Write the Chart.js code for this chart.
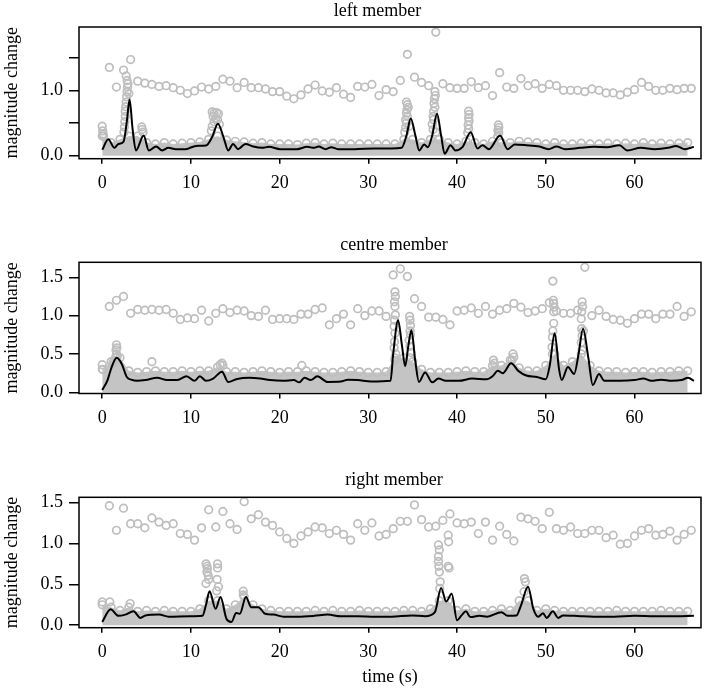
<!DOCTYPE html>
<html><head><meta charset="utf-8">
<script src="https://cdn.jsdelivr.net/npm/chart.js@4.4.1/dist/chart.umd.min.js"></script>
<style>
html,body{margin:0;padding:0;background:#fff;}
body{width:711px;height:688px;position:relative;overflow:hidden;}
canvas{position:absolute;left:0;}
</style></head><body>
<canvas id="c1" width="711" height="230" style="top:0;width:711px;height:230px"></canvas>
<canvas id="c2" width="711" height="230" style="top:230px;width:711px;height:230px"></canvas>
<canvas id="c3" width="711" height="228" style="top:460px;width:711px;height:228px"></canvas>
<script>
// ---------- axis ticks ----------
const xTicks = [0, 10, 20, 30, 40, 50, 60];
const xTickLabels = ['0', '10', '20', '30', '40', '50', '60'];
const yTicks = [0, 0.5, 1.0, 1.5];
const leftYLabels = ['0.0', '', '1.0', ''];
const otherYLabels = ['0.0', '0.5', '1.0', '1.5'];
const panelTitles = ['left member', 'centre member', 'right member'];
const yTitle = 'magnitude change';
const xTitle = 'time (s)';

// ---------- shared time bases ----------
const highTime = [0.8,1.6,2.4,3.2,4.0,4.8,5.6,6.4,7.2,8.0,8.8,9.6,10.4,11.2,12.0,12.8,13.6,14.4,15.2,16.0,16.8,17.6,18.4,19.2,20.0,20.8,21.6,22.4,23.2,24.0,24.8,25.6,26.4,27.2,28.0,28.8,29.6,30.4,31.2,32.0,32.8,33.6,34.4,35.2,36.0,36.8,37.6,38.4,39.2,40.0,40.8,41.6,42.4,43.2,44.0,44.8,45.6,46.4,47.2,48.0,48.8,49.6,50.4,51.2,52.0,52.8,53.6,54.4,55.2,56.0,56.8,57.6,58.4,59.2,60.0,60.8,61.6,62.4,63.2,64.0,64.8,65.6,66.4];
const bandTime = [0,1,2,3,4,5,6,7,8,9,10,11,12,13,14,15,16,17,18,19,20,21,22,23,24,25,26,27,28,29,30,31,32,33,34,35,36,37,38,39,40,41,42,43,44,45,46,47,48,49,50,51,52,53,54,55,56,57,58,59,60,61,62,63,64,65,66];

// ---------- left member ----------
const leftHigh = [1.35,1.05,1.31,1.47,1.14,1.11,1.09,1.06,1.07,1.04,1.0,0.95,0.99,1.05,1.02,1.06,1.17,1.14,1.04,1.12,1.04,1.04,1.02,0.98,0.98,0.91,0.87,0.93,1.02,1.08,0.99,0.97,1.04,0.94,0.89,1.06,1.05,1.09,0.92,1.01,0.98,1.15,1.55,1.2,1.12,1.07,1.89,1.1,1.04,1.03,1.03,1.13,1.04,1.07,0.92,1.27,1.05,1.03,1.18,1.07,1.1,1.03,1.09,1.07,1.0,1.0,1.0,0.98,1.02,1.0,0.96,0.96,0.93,0.97,1.01,1.12,1.06,1.0,1.0,1.03,1.01,1.03,1.03];
const leftBand = [0.3,0.2,0.25,0.3,0.3,0.2,0.18,0.2,0.18,0.19,0.2,0.21,0.25,0.3,0.24,0.22,0.21,0.19,0.2,0.18,0.18,0.18,0.17,0.19,0.2,0.18,0.19,0.18,0.18,0.18,0.18,0.18,0.18,0.18,0.25,0.25,0.2,0.25,0.25,0.2,0.18,0.22,0.2,0.18,0.22,0.2,0.2,0.22,0.21,0.2,0.18,0.2,0.18,0.18,0.19,0.18,0.18,0.19,0.18,0.19,0.18,0.2,0.18,0.19,0.18,0.19,0.2];
const leftSpikeT = [0,0.05,0.1,0.15, 2.7,2.8,2.9,2.85,2.8,2.75,2.7,2.65,2.6,2.6,2.55,2.5,2.45,3.0, 4.45,4.5,4.6, 12.4,12.6,12.9,13.1,12.5,12.8,13.0,12.6,12.4,12.3,13.2, 34.3,34.4,34.5,34.35,34.3,34.4,34.2,34.3,34.2,34.1,34.6, 37.5,37.55,37.45,37.4,37.5,37.35,37.3,37.35,37.2,37.3,37.6, 41.3,41.35,41.3,41.35,41.25,41.3,41.2, 44.65,44.7,44.6,44.7,44.6];
const leftSpikeV = [0.45,0.38,0.33,0.3, 1.22,1.15,1.1,1.05,0.98,0.9,0.82,0.75,0.68,0.6,0.52,0.44,0.36,0.95, 0.44,0.4,0.36, 0.67,0.65,0.66,0.64,0.6,0.57,0.55,0.52,0.45,0.38,0.48, 0.82,0.78,0.74,0.7,0.65,0.6,0.55,0.5,0.43,0.36,0.45, 0.98,0.92,0.87,0.8,0.74,0.68,0.6,0.55,0.48,0.4,0.36, 0.68,0.63,0.58,0.53,0.47,0.41,0.35, 0.47,0.43,0.39,0.35,0.3];
const leftLineT = [0,0.68,1.37,1.82,2.39,2.77,3.08,3.42,3.8,4.67,5.25,6.08,6.76,7.45,8.3,9.4,10.57,11.7,12.4,13.04,13.7,14.2,14.75,15.3,16.15,17.03,18,18.8,20.07,21.97,23.1,23.9,24.4,25.2,25.8,26.6,28.4,30.7,32.6,33.75,34.3,34.78,35.3,35.73,36.3,36.7,37.2,37.74,38.2,38.6,39.26,39.8,40.6,41.54,42.3,42.87,43.6,44.85,45.7,46.5,47.8,49.3,50.3,51.2,52.2,53.9,55.4,56.9,58.3,59.2,60.7,62.3,63.8,64.7,65.7,66.7];
const leftLineV = [0.09,0.25,0.12,0.18,0.21,0.52,0.86,0.41,0.08,0.31,0.08,0.14,0.08,0.12,0.1,0.1,0.15,0.155,0.29,0.49,0.27,0.08,0.18,0.1,0.18,0.14,0.12,0.135,0.1,0.1,0.135,0.12,0.14,0.1,0.13,0.1,0.1,0.11,0.11,0.12,0.31,0.57,0.31,0.08,0.17,0.13,0.31,0.64,0.31,0.03,0.16,0.08,0.13,0.36,0.11,0.16,0.1,0.31,0.1,0.17,0.16,0.14,0.1,0.14,0.1,0.12,0.135,0.13,0.16,0.08,0.12,0.1,0.12,0.15,0.1,0.135];

// ---------- centre member ----------
const centreHigh = [1.12,1.2,1.25,1.03,1.08,1.07,1.08,1.07,1.08,1.03,0.95,0.97,0.96,1.07,0.93,1.03,1.09,1.04,1.07,1.06,1.0,0.99,1.07,0.95,0.96,0.96,0.95,1.02,1.02,1.08,1.1,0.88,0.96,1.02,0.88,1.09,1.0,1.06,1.06,0.99,1.53,1.61,1.51,1.22,1.12,0.98,0.98,0.95,0.88,1.06,1.07,1.1,1.03,1.12,1.02,1.07,1.09,1.16,1.11,1.04,1.06,1.09,1.17,1.06,1.03,1.03,1.07,1.63,1.0,1.07,0.99,0.95,0.94,0.9,0.96,1.02,1.02,0.96,1.02,1.02,1.12,0.99,1.05];
const centreBand = [0.3,0.4,0.45,0.28,0.26,0.27,0.28,0.27,0.27,0.28,0.27,0.28,0.28,0.33,0.27,0.27,0.26,0.27,0.28,0.27,0.26,0.27,0.27,0.28,0.27,0.26,0.26,0.27,0.28,0.27,0.26,0.26,0.27,0.45,0.45,0.4,0.3,0.26,0.26,0.26,0.27,0.28,0.27,0.27,0.35,0.35,0.42,0.32,0.28,0.28,0.35,0.5,0.35,0.4,0.5,0.35,0.28,0.27,0.27,0.26,0.27,0.27,0.26,0.27,0.27,0.28,0.28];
const centreSpikeT = [0,0.05, 1.6,1.65,1.55,1.6,1.5,1.4,1.3,1.7,1.2, 5.6, 13.3,13.5,13.6, 22.5, 33.0,33.05,32.95,33.0,33.05,32.95,32.9,33.0,32.95,32.9,33.1,33.0, 34.65,34.7,34.75,34.7,34.75,34.6,34.7,34.8,34.7, 44.1,44.2,46.3,46.4,46.2, 50.8,50.85,50.9,50.95,50.9,50.9,50.8,50.75,50.7,50.75, 54.1,54.15,54.05,54.0,54.05,54.25,54.1,54.0,54.1];
const centreSpikeV = [0.36,0.3, 0.62,0.58,0.55,0.5,0.45,0.42,0.4,0.47,0.38, 0.4, 0.36,0.38,0.35, 0.35, 1.31,1.25,1.18,1.12,1.01,0.94,0.86,0.77,0.66,0.58,0.5,0.42, 0.99,0.94,0.87,0.8,0.75,0.68,0.6,0.52,0.45, 0.42,0.38,0.5,0.46,0.42, 1.45,1.2,1.16,1.11,1.05,0.9,0.8,0.72,0.59,0.5, 1.18,1.12,1.05,0.96,0.83,0.8,0.74,0.65,0.55];
const centreLineT = [0,0.6,1.06,1.63,2.2,2.77,3.27,3.96,4.87,6.2,7.3,8.47,9.5,10.4,11,11.7,12.5,13.5,14.2,15.2,16.6,17.8,18.9,20.4,21.6,22.2,22.8,23.5,24.25,25.4,26.9,27.7,28.8,30.3,32.5,32.8,33.35,33.8,34.15,34.5,34.85,35.3,35.7,36.4,37.2,37.9,38.7,40.2,41.7,43.3,44,44.6,45.15,46.1,46.9,47.8,49,50,50.45,51,51.5,51.8,52.5,53.2,53.7,54.2,54.8,55.3,56,56.6,58.4,60,61,61.9,63,64.2,65.3,66.05,66.7];
const centreLineV = [0.03,0.16,0.33,0.45,0.37,0.2,0.165,0.15,0.16,0.19,0.16,0.16,0.21,0.15,0.21,0.15,0.18,0.27,0.135,0.175,0.19,0.18,0.16,0.15,0.16,0.13,0.19,0.16,0.21,0.135,0.14,0.165,0.16,0.14,0.15,0.5,0.94,0.6,0.34,0.6,0.81,0.4,0.135,0.26,0.13,0.18,0.15,0.15,0.18,0.17,0.21,0.28,0.25,0.38,0.28,0.22,0.2,0.17,0.35,0.77,0.3,0.16,0.33,0.24,0.5,0.83,0.45,0.095,0.24,0.15,0.15,0.16,0.18,0.15,0.165,0.15,0.16,0.19,0.15];

// ---------- right member ----------
const rightHigh = [1.46,1.16,1.43,1.24,1.24,1.19,1.31,1.26,1.22,1.24,1.12,1.11,1.04,1.19,1.41,1.2,1.39,1.24,1.17,1.51,1.3,1.35,1.26,1.22,1.14,1.06,1.0,1.09,1.14,1.2,1.19,1.12,1.16,1.11,1.04,1.24,1.16,1.25,1.09,1.11,1.18,1.27,1.27,1.47,1.29,1.2,1.21,1.28,1.36,1.25,1.24,1.26,1.12,1.26,1.04,1.21,1.11,1.03,1.32,1.3,1.27,1.18,1.38,1.18,1.16,1.2,1.12,1.12,1.16,1.16,1.07,1.1,0.99,1.0,1.09,1.16,1.18,1.1,1.11,1.15,1.04,1.11,1.16];
const rightBand = [0.25,0.22,0.18,0.22,0.17,0.18,0.17,0.18,0.17,0.17,0.17,0.2,0.3,0.3,0.2,0.25,0.35,0.25,0.2,0.18,0.17,0.17,0.17,0.17,0.18,0.17,0.18,0.17,0.17,0.18,0.17,0.17,0.17,0.17,0.18,0.18,0.17,0.2,0.3,0.3,0.18,0.2,0.17,0.17,0.18,0.2,0.18,0.3,0.3,0.18,0.2,0.18,0.17,0.17,0.17,0.17,0.17,0.17,0.18,0.17,0.17,0.17,0.17,0.18,0.17,0.17,0.17];
const rightSpikeT = [0,0.85,3.15, 11.7,11.8,11.85,11.8,11.95,11.7,12.0, 13.0,13.0,12.95,13.1,12.9, 15.9,15.9, 37.9,38.0,37.9,37.9,37.95,38.0,38.1,38.05,39.0,39.05,39.0,39.1, 47.6,47.7,47.55];
const rightSpikeV = [0.285,0.285,0.265, 0.75,0.72,0.69,0.65,0.61,0.51,0.56, 0.75,0.7,0.56,0.47,0.42, 0.415,0.37, 0.98,0.92,0.84,0.78,0.72,0.65,0.53,0.45,1.1,1.02,0.72,0.7, 0.57,0.53,0.41];
const rightLineT = [0,0.95,1.82,2.6,3.53,4.3,4.87,6.4,7.5,9.8,11.3,11.7,12.1,12.77,13.34,14,14.56,15.1,15.5,16.2,16.8,17.6,18.36,19.3,20.45,21.97,23.9,25.4,26.9,28.8,30.7,32.6,34.9,36.4,37.5,38.2,38.77,39.4,40,40.5,41,41.5,42.5,43.4,45,45.7,46.7,47.2,48,48.6,49.15,49.7,50.1,50.8,51.4,51.96,53.9,55.4,57.7,60,62.3,64.6,66.7];
const rightLineV = [0.04,0.195,0.115,0.13,0.17,0.09,0.12,0.13,0.105,0.11,0.115,0.25,0.415,0.2,0.345,0.08,0.04,0.15,0.14,0.345,0.22,0.22,0.14,0.13,0.105,0.105,0.115,0.13,0.11,0.11,0.105,0.105,0.12,0.11,0.16,0.455,0.29,0.385,0.06,0.12,0.17,0.1,0.115,0.105,0.16,0.115,0.12,0.24,0.47,0.2,0.105,0.145,0.09,0.17,0.09,0.12,0.11,0.105,0.105,0.115,0.11,0.11,0.115];

// ---------- drawing ----------
const SERIF = "'Liberation Serif', 'Times New Roman', Times, serif";
Chart.defaults.font.family = SERIF;
Chart.defaults.color = '#000';
const GREY = '#bebebe';

const framePlugin = {
  id: 'frameTitle',
  afterDraw(chart, args, opts) {
    const {ctx, chartArea: a} = chart;
    ctx.save();
    ctx.strokeStyle = '#000';
    ctx.lineWidth = 1.5;
    ctx.strokeRect(a.left, a.top, a.right - a.left, a.bottom - a.top);
    ctx.fillStyle = '#000';
    ctx.font = '18px ' + SERIF;
    ctx.textAlign = 'center';
    ctx.textBaseline = 'middle';
    ctx.fillText(opts.text, opts.x, opts.y);
    ctx.restore();
  }
};

function pairs(t, v) { return t.map((x, i) => ({x: x, y: v[i]})); }

function panel(id, o) {
  const circle = {pointRadius: 3.8, pointHoverRadius: 3.8, pointBorderWidth: 1.7,
                  pointBorderColor: GREY, pointBackgroundColor: 'rgba(0,0,0,0)'};
  new Chart(document.getElementById(id), {
    type: 'scatter',
    data: {datasets: [
      Object.assign({label: 'smoothed', data: pairs(o.lineT, o.lineV), showLine: true,
        borderColor: '#000', borderWidth: 2, pointRadius: 0, pointHoverRadius: 0,
        cubicInterpolationMode: 'monotone', fill: false, order: 0}),
      Object.assign({label: 'high', data: pairs(highTime, o.high), showLine: false, order: 1}, circle),
      Object.assign({label: 'spike', data: pairs(o.spikeT, o.spikeV), showLine: false, order: 2}, circle),
      Object.assign({label: 'band', data: pairs(bandTime, o.band), showLine: true,
        borderColor: 'rgba(0,0,0,0)', borderWidth: 1, backgroundColor: '#c4c4c4',
        fill: 'origin', order: 3}, circle)
    ]},
    options: {
      responsive: false, animation: false, devicePixelRatio: 1, events: [],
      layout: {padding: {top: o.padTop, right: 10, left: 0, bottom: 0}},
      plugins: {legend: {display: false}, tooltip: {enabled: false},
        frameTitle: {text: o.title, x: o.titleX, y: o.titleY}},
      scales: {
        x: {type: 'linear', min: -2.62, max: 67.5,
          afterBuildTicks: s => { s.ticks = xTicks.map(v => ({value: v})); },
          afterFit: s => { s.height = o.xh; },
          ticks: {autoSkip: false, maxRotation: 0, padding: 9, color: '#000',
            font: {size: 18}, callback: (v, i) => xTickLabels[i]},
          grid: {display: true, drawOnChartArea: false, drawTicks: true, tickLength: 5,
            color: '#000', lineWidth: 1.5},
          border: {display: false},
          title: {display: o.showX, text: xTitle, color: '#000', font: {size: 18},
            padding: {top: 0, bottom: 0}}
        },
        y: {type: 'linear', min: o.ymin, max: o.ymax,
          afterBuildTicks: s => { s.ticks = yTicks.map(v => ({value: v})); },
          afterFit: s => { s.width = 79; },
          ticks: {autoSkip: false, padding: 6, color: '#000', font: {size: 18},
            callback: (v, i) => o.yLabels[i]},
          grid: {display: true, drawOnChartArea: false, drawTicks: true, tickLength: 10,
            color: '#000', lineWidth: 1.5},
          border: {display: false},
          title: {display: true, text: yTitle, color: '#000', font: {size: 18},
            padding: {top: 1, bottom: 0}}
        }
      }
    },
    plugins: [framePlugin]
  });
}

panel('c1', {title: panelTitles[0], titleX: 377.5, titleY: 11, padTop: 27, xh: 71.3,
  ymin: -0.046, ymax: 1.968, yLabels: leftYLabels, showX: false,
  high: leftHigh, band: leftBand, spikeT: leftSpikeT, spikeV: leftSpikeV,
  lineT: leftLineT, lineV: leftLineV});
panel('c2', {title: panelTitles[1], titleX: 394, titleY: 15, padTop: 32.3, xh: 66.5,
  ymin: -0.015, ymax: 1.695, yLabels: otherYLabels, showX: false,
  high: centreHigh, band: centreBand, spikeT: centreSpikeT, spikeV: centreSpikeV,
  lineT: centreLineT, lineV: centreLineV});
panel('c3', {title: panelTitles[2], titleX: 394, titleY: 20, padTop: 37.3, xh: 60.3,
  ymin: -0.03, ymax: 1.563, yLabels: otherYLabels, showX: true,
  high: rightHigh, band: rightBand, spikeT: rightSpikeT, spikeV: rightSpikeV,
  lineT: rightLineT, lineV: rightLineV});
</script>
</body></html>
